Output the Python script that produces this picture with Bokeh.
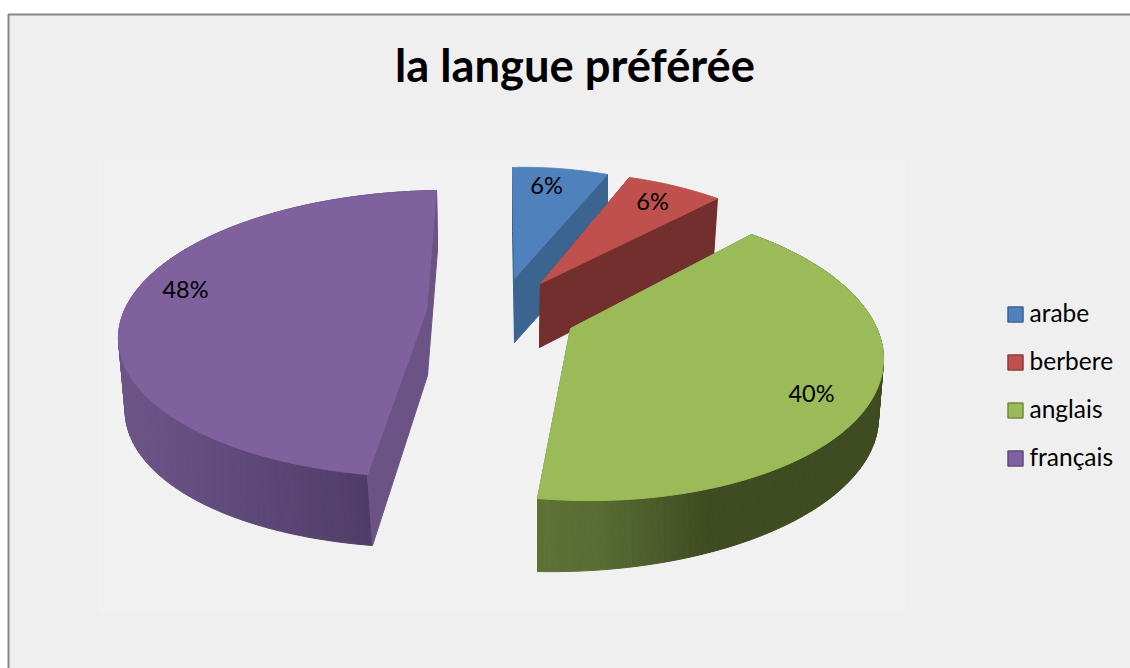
import numpy as np
from bokeh.plotting import figure
from bokeh.models import ColumnDataSource
from bokeh.core.properties import value
from bokeh.embed import file_html
from bokeh.resources import INLINE

# ---- data ----
categories = ["arabe", "berbere", "anglais", "français"]
shares = [6, 6, 40, 48]
title_text = "la langue préférée"

# ---- styles ----
FONT = "Lato"
top_colors = ["#4f81bd", "#bf504d", "#9bbb59", "#7f619d"]
edge_colors = ["#3c6490", "#722f2e", "#5f7236", "#6b5485"]
legend_edge = ["#3a6291", "#8f3b39", "#748c42", "#5f4a79"]
wall_stops = {2: ([537, 600, 660, 705, 900], ["#5f7236", "#586b33", "#4a5a2a", "#3f4b20", "#3f4b20"]),
              3: ([118, 250, 372], ["#6d5588", "#5e4879", "#4f3c65"])}

# ---- camera calibration for each exploded slice: page position of the apex, of the two arc ends
# and of further arc points (at fractions f of the slice), for the top and the bottom ring
camera = [
    dict(f=[.5], apex=[(514, 278), (514, 342)],
         top=[(512, 167), (607, 174), (557, 168)], bot=[(512, 231), (607, 238), (557, 232)]),
    dict(f=[.5], apex=[(540, 283), (539, 347)],
         top=[(629, 177), (717, 198), (672, 185)], bot=[(629, 240), (713, 258), (672, 248)]),
    dict(f=[.36, .64], apex=[(570, 328), (570, 395)],
         top=[(751, 234), (537, 498), (883, 358), (800, 458)], bot=[(751, 296), (537, 571), (878, 418), (798, 518)]),
    dict(f=[.2, .5], apex=[(426, 310), (427, 375)],
         top=[(367, 474), (436, 190), (217, 440), (118, 335)], bot=[(372, 545), (437, 250), (217, 510), (125, 402)]),
]
label_pos = [(546, 184), (652, 200), (811, 392), (185, 288)]


def unit(t):
    return np.sin(t), np.cos(t)


def homography(src, dst):
    A, b = [], []
    for (x, y), (u, v) in zip(src, dst):
        A.append([x, y, 1, 0, 0, 0, -u * x, -u * y]); b.append(u)
        A.append([0, 0, 0, x, y, 1, -v * x, -v * y]); b.append(v)
    return np.append(np.linalg.solve(np.array(A, float), np.array(b, float)), 1.0).reshape(3, 3)


def project(H, x, y):
    w = H[2, 0] * x + H[2, 1] * y + H[2, 2]
    return (H[0, 0] * x + H[0, 1] * y + H[0, 2]) / w, (H[1, 0] * x + H[1, 1] * y + H[1, 2]) / w


def mix(stops, x):
    xs, cols = stops
    rgb = [[int(c[i:i + 2], 16) for i in (1, 3, 5)] for c in cols]
    return "#%02x%02x%02x" % tuple(int(round(np.interp(x, xs, [r[k] for r in rgb]))) for k in range(3))


p = figure(width=1130, height=668, x_range=(0, 1130), y_range=(668, 0),
           output_backend="svg", toolbar_location=None, min_border=0,
           background_fill_color="#ffffff", border_fill_color="#ffffff", outline_line_color=None)
p.axis.visible = False
p.grid.visible = False

# frame and plot area
p.quad(left=[8], right=[1140], top=[14], bottom=[680], fill_color="#efefef", line_color="#868686", line_width=2)
p.quad(left=[98], right=[905], top=[160], bottom=[612], fill_color="#f1f1f1", line_color=None)

# slices
fractions = np.array(shares, float) / sum(shares)
ends = np.cumsum(fractions) * 2 * np.pi
starts = ends - fractions * 2 * np.pi
for i, (t0, t1) in enumerate(zip(starts, ends)):
    cam = camera[i]
    src = [unit(t0), unit(t1)] + [unit(t0 + f * (t1 - t0)) for f in cam["f"]]
    top_pts, bot_pts = list(cam["top"]), list(cam["bot"])
    if len(src) == 3:  # one extra arc point: the apex fixes the camera
        src.append((0, 0)); top_pts.append(cam["apex"][0]); bot_pts.append(cam["apex"][1])
    Ht, Hb = homography(src, top_pts), homography(src, bot_pts)
    ts = np.linspace(t0, t1, 121)
    ux, uy = unit(ts)
    tx, ty = project(Ht, ux, uy)
    bx, by = project(Hb, ux, uy)
    ax, ay = cam["apex"][0]
    cx, cy = cam["apex"][1]
    # curved wall
    if i in wall_stops:
        qx = [[tx[k], tx[k + 1], bx[k + 1], bx[k]] for k in range(len(ts) - 1)]
        qy = [[ty[k], ty[k + 1], by[k + 1], by[k]] for k in range(len(ts) - 1)]
        cols = [mix(wall_stops[i], (tx[k] + tx[k + 1]) / 2) for k in range(len(ts) - 1)]
        src_w = ColumnDataSource(dict(xs=qx, ys=qy, c=cols))
        p.patches("xs", "ys", source=src_w, fill_color="c", line_color="c", line_width=1)
    # flat cut faces
    p.patches([[ax, tx[-1], bx[-1], cx], [ax, tx[0], bx[0], cx]],
              [[ay, ty[-1], by[-1], cy], [ay, ty[0], by[0], cy]],
              fill_color=edge_colors[i], line_color=edge_colors[i], line_width=1)
    # top face
    p.patch(np.r_[ax, tx], np.r_[ay, ty], fill_color=top_colors[i], line_color=top_colors[i], line_width=1)

# percent labels
p.text([q[0] for q in label_pos], [q[1] for q in label_pos], text=[f"{v}%" for v in shares],
       text_font=value(FONT), text_font_size="23.5px", text_color="#000000",
       text_align="center", text_baseline="middle")

# title
p.text([574.5], [64], text=[title_text], text_font=value(FONT), text_font_size="45.3px",
       text_font_style="bold", text_color="#000000", text_align="center", text_baseline="middle")

# legend
leg_y = [314, 362, 410, 458]
p.rect([1015] * 4, leg_y, width=15, height=15, fill_color=top_colors, line_color=legend_edge, line_width=1.5)
p.text([1029] * 4, [y - 2 for y in leg_y], text=categories, text_font=value(FONT), text_font_size="24.5px",
       text_color="#000000", text_align="left", text_baseline="middle")

open("out.html", "w").write(file_html(p, INLINE))
